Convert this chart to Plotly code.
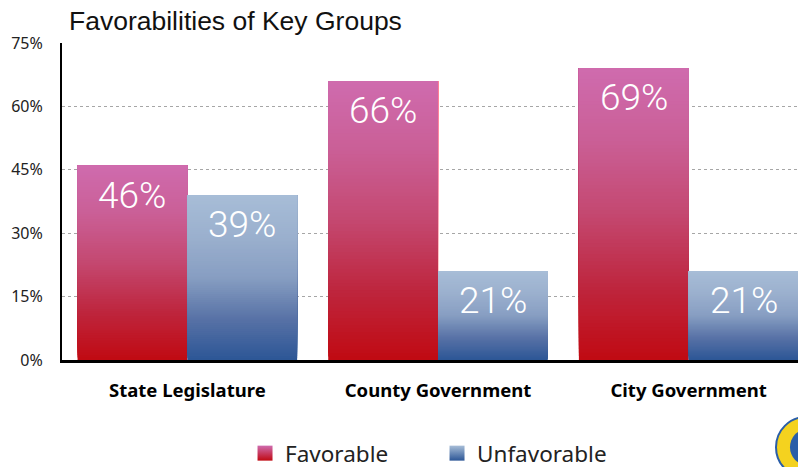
import plotly.graph_objects as go

categories = ["State Legislature", "County Government", "City Government"]
favorable = [46, 66, 69]
unfavorable = [39, 21, 21]
series_names = ["Favorable", "Unfavorable"]
y_ticks = [0, 15, 30, 45, 60, 75]
y_tick_labels = ["0%", "15%", "30%", "45%", "60%", "75%"]

# gradient stops (fraction of bar height from bottom -> rgb)
fav_stops = [(0.0, (192, 10, 18)), (0.25, (190, 38, 62)), (0.5, (196, 72, 112)),
             (0.75, (202, 95, 150)), (1.0, (207, 107, 174))]
unf_stops = [(0.0, (44, 86, 150)), (0.25, (88, 114, 166)), (0.5, (135, 158, 194)),
             (0.75, (155, 176, 206)), (1.0, (167, 189, 215))]


def interp(stops, t):
    for (t0, c0), (t1, c1) in zip(stops[:-1], stops[1:]):
        if t <= t1:
            f = (t - t0) / (t1 - t0) if t1 > t0 else 0
            return "rgb(%d,%d,%d)" % tuple(round(a + (b - a) * f) for a, b in zip(c0, c1))
    return "rgb(%d,%d,%d)" % stops[-1][1]


N = 80
BW = 0.438
fig = go.Figure()
for vals, stops, off in [(favorable, fav_stops, -BW), (unfavorable, unf_stops, 0.0)]:
    for i in range(N):
        t = (i + 0.5) / N
        # each layer spans from its base to the bar top; later layers cover earlier ones
        fig.add_trace(go.Bar(
            x=categories,
            y=[v * (1 - i / N) for v in vals],
            base=[v * i / N for v in vals],
            width=BW, offset=off,
            marker=dict(color=interp(stops, t), line=dict(width=0)),
            showlegend=False, hoverinfo="skip",
        ))

# legend entries
for name, stops in [(series_names[0], fav_stops), (series_names[1], unf_stops)]:
    fig.add_trace(go.Scatter(
        x=[None], y=[None], mode="markers", name=name,
        marker=dict(symbol="square", size=15,
                    color="rgb(%d,%d,%d)" % stops[-1][1],
                    gradient=dict(type="vertical", color="rgb(%d,%d,%d)" % stops[0][1]),
                    line=dict(width=0)),
    ))

# value labels
for vals, sgn in [(favorable, -1), (unfavorable, 1)]:
    for k, v in enumerate(vals):
        fig.add_annotation(
            x=k + sgn * BW / 2, y=v, xref="x", yref="y",
            text=f"{v}%", showarrow=False, yanchor="top", yshift=-6,
            font=dict(family="Roboto, Liberation Sans", size=37, color="white", weight=300),
        )

# partial logo circle at bottom-right corner
fig.add_shape(type="circle", xref="paper", yref="paper",
              x0=1.0 - 30 / 744, x1=1.0 + 30 / 744, y0=-0.37, y1=-0.18,
              fillcolor="#f4d21f", line=dict(color="#2a5ea8", width=2), layer="above")
fig.add_shape(type="circle", xref="paper", yref="paper",
              x0=1.0 - 16 / 744, x1=1.0 + 16 / 744, y0=-0.33, y1=-0.22,
              fillcolor="#2a5ea8", line=dict(width=0), layer="above")

# the page places the figure 8px in from the top-left corner
fig.update_layout(
    width=798, height=459,
    margin=dict(l=54, r=0, t=35, b=107, autoexpand=False),
    paper_bgcolor="white", plot_bgcolor="white",
    barmode="overlay",
    title=dict(text="Favorabilities of Key Groups", x=61 / 798, xanchor="left",
               xref="container", y=1 - 13 / 459, yanchor="middle", yref="container",
               font=dict(family="Liberation Sans, Arial", size=26.5, color="#111111")),
    xaxis=dict(range=[-0.5, 2.468], showgrid=False, showline=True, linecolor="black",
               linewidth=3, ticks="", ticklabelstandoff=12,
               tickfont=dict(family="Noto Sans", size=18.5, color="black", weight="bold")),
    yaxis=dict(range=[0, 75], tickvals=y_ticks, ticktext=y_tick_labels,
               showgrid=True, gridcolor="#a6a6a6", griddash="dot", gridwidth=1,
               showline=True, linecolor="black", linewidth=2, ticks="",
               ticklabelstandoff=14, zeroline=False,
               tickfont=dict(family="Noto Sans", size=16, color="#222222")),
    legend=dict(orientation="h", x=0.246, xanchor="left", y=-0.295, yanchor="middle",
                font=dict(family="Noto Sans", size=22.5, color="#222222"),
                itemwidth=30, entrywidth=147, entrywidthmode="pixels"),
)

fig.write_html("out.html")
